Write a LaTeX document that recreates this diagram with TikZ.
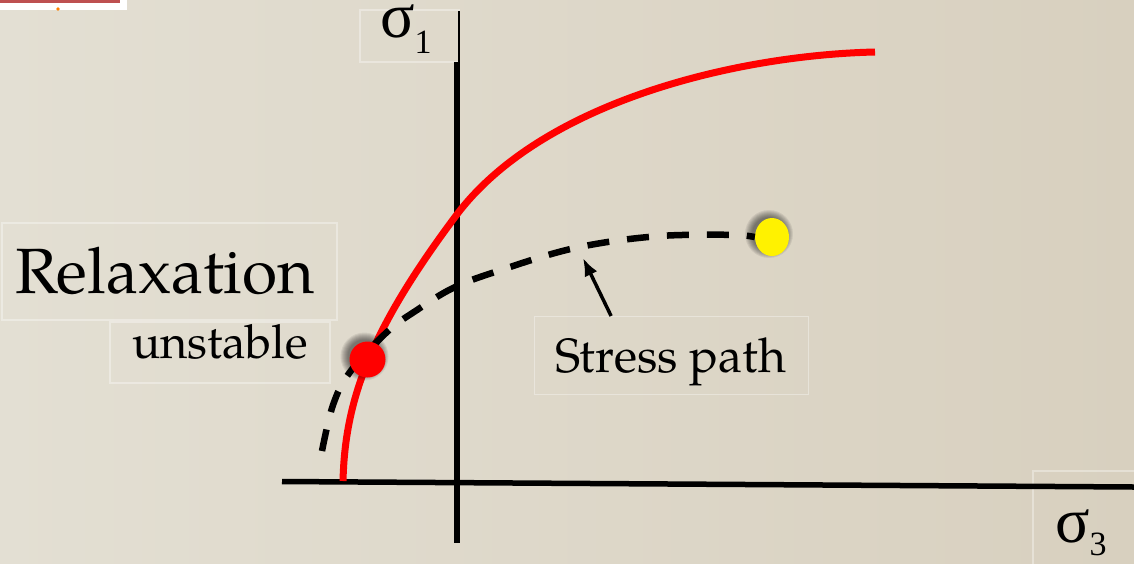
\documentclass[tikz,border=0pt]{standalone}
\usepackage{fontspec}
\setmainfont{texgyrepagella-regular.otf}
\newfontfamily\grk{Liberation Serif}
\usetikzlibrary{arrows.meta,shapes.geometric,calc}
\definecolor{bgL}{RGB}{227,223,211}
\definecolor{bgR}{RGB}{216,208,191}
\definecolor{slideRed}{RGB}{190,80,80}
\tikzset{
  faintbox/.style={draw=white,draw opacity=0.35,line width=1.4pt},
  axis/.style={line width=5.5pt,black},
  yieldcurve/.style={line width=7pt,red},
  pathcurve/.style={line width=6.5pt,black,dash pattern=on 22pt off 18pt},
  lbl/.style={inner sep=0pt,anchor=base west,text=black},
  softshadow/.style={fill=black,fill opacity=0.07}
}
\newcommand\dotshade[3]{% center x, center y, radius
  \foreach \k in {0,...,7}{\fill[softshadow] (#1-3,#2-3) ellipse ({#3+7-\k} and {#3+7-\k});}}
\begin{document}
\begin{tikzpicture}[x=1pt,y=-1pt]
\useasboundingbox (0,0) rectangle (1134,563);
\shade[left color=bgL,right color=bgR] (0,0) rectangle (1134,563);
% slide artefact top-left
\fill[white] (0,0) rectangle (127,10);
\draw[slideRed,line width=3pt] (0,1.5) -- (118,1.5) -- (118,-2);
\fill[orange] (58,9) circle (1.8);
% faint boxes
\draw[faintbox] (2,223) rectangle (337,320);
\draw[faintbox] (110,322) rectangle (330,383);
\node[faintbox,minimum width=274pt,minimum height=78pt,anchor=north west,inner sep=0pt] (spbox) at (534,316) {};
\draw[faintbox] (360,10) rectangle (459,62);
\draw[faintbox] (1033,471) rectangle (1140,570);
% axes
\coordinate (vtop) at (457,62);
\coordinate (vbot) at (457,543);
\coordinate (hl) at (282,481.5);
\coordinate (hr) at (1134,487);
\draw[axis] (hl) -- (hr);
\draw[axis] (vtop) -- (vbot);
\draw[line width=1.8pt] (459,11) -- (459,64);
% yield curve
\draw[yieldcurve] (343,481) .. controls (345,400) and (370,330) .. (458,213)
                  .. controls (545,100) and (740,55) .. (875,52);
% yellow dot and shadow
\dotshade{772}{237}{17}
\node[ellipse,fill=yellow,minimum width=34pt,minimum height=38pt,inner sep=0pt] (yel) at (772,237) {};
% stress path
\draw[pathcurve] plot[smooth,tension=0.6] coordinates {(322,451) (333,405) (350,372) (387,332) (417,310) (453,288) (495,272) (575,248) (660,236) (743,235)} -- (yel.west);
% red dot and shadow
\dotshade{367.5}{359.5}{17}
\node[circle,fill=red,minimum size=36pt,inner sep=0pt] (rdot) at (367.5,359.5) {};
% arrow
\coordinate (tip) at (583,258);
\draw[line width=3.5pt,-{Latex[length=18pt,width=14pt]}] ($(spbox.north west)!0.28!(spbox.north east)$) -- (tip);
% labels
\node[lbl,font=\fontsize{64}{64}\selectfont] (relax) at (15,293) {Relaxation};
\node[lbl,font=\fontsize{47}{47}\selectfont] (unst) at (132,358) {unstable};
\node[lbl,font=\fontsize{48}{48}\selectfont] (sp) at (555,372) {Stress path};
\node[lbl] (s1) at (380,37) {\fontsize{64}{64}\grk σ\raisebox{-16pt}{\fontsize{34}{34}\selectfont 1}};
\node[lbl] (s3) at (1055,542) {\fontsize{64}{64}\grk σ\raisebox{-13pt}{\fontsize{34}{34}\selectfont 3}};
\end{tikzpicture}
\end{document}
